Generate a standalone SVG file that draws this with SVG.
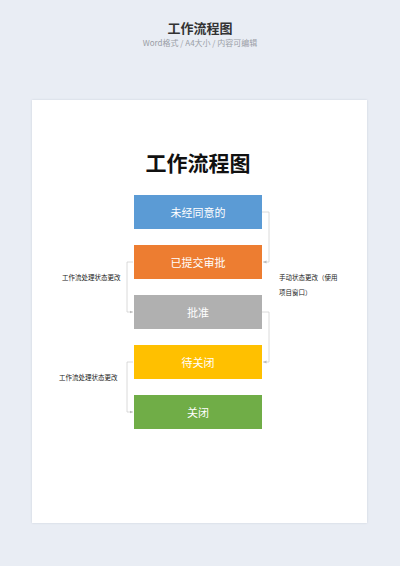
<svg xmlns="http://www.w3.org/2000/svg" width="400" height="566" viewBox="0 0 400 566">
<defs>
<style>
.cjk{font-family:"Noto Sans CJK SC","Noto Sans",sans-serif}
.node text{fill:#fff;font-size:11px;text-anchor:middle;dominant-baseline:central}
.lbl{font-size:6.5px;fill:#222}
.conn path{fill:none;stroke:#d0d0d0;stroke-width:0.8}
</style>
<marker id="arr" markerWidth="4" markerHeight="4" refX="3.5" refY="2" orient="auto" markerUnits="userSpaceOnUse">
<path d="M0,0.5 L3.5,2 L0,3.5 z" fill="#bbb"/>
</marker>
<filter id="sh" x="-5%" y="-5%" width="110%" height="110%">
<feDropShadow dx="0" dy="0" stdDeviation="1.2" flood-color="#b8bfcc" flood-opacity="0.6"/>
</filter>
</defs>
<rect x="0" y="0" width="400" height="566" fill="#e9edf4"/>
<g id="header" class="cjk">
<text x="200" y="33" font-size="13" font-weight="bold" fill="#333" text-anchor="middle">工作流程图</text>
<text x="200" y="46" font-size="8" fill="#9a9ea6" text-anchor="middle">Word格式 / A4大小 / 内容可编辑</text>
</g>
<rect x="32" y="100" width="335" height="423" fill="#fff" filter="url(#sh)"/>
<text class="cjk" x="198" y="171" font-size="21" font-weight="bold" fill="#111" text-anchor="middle">工作流程图</text>
<g class="conn">
<path d="M262,212 H269 V262 H263" marker-end="url(#arr)"/>
<path d="M133,262 H127 V312 H133" marker-end="url(#arr)"/>
<path d="M262,312 H269 V362 H263" marker-end="url(#arr)"/>
<path d="M133,362 H127 V412 H133" marker-end="url(#arr)"/>
</g>
<g id="n1" class="node cjk"><rect x="134" y="195" width="128" height="34" fill="#5b9bd5"/><text x="198" y="212">未经同意的</text></g>
<g id="n2" class="node cjk"><rect x="134" y="245" width="128" height="34" fill="#ed7d31"/><text x="198" y="262">已提交审批</text></g>
<g id="n3" class="node cjk"><rect x="134" y="295" width="128" height="34" fill="#b0b0b0"/><text x="198" y="312">批准</text></g>
<g id="n4" class="node cjk"><rect x="134" y="345" width="128" height="34" fill="#ffc000"/><text x="198" y="362">待关闭</text></g>
<g id="n5" class="node cjk"><rect x="134" y="395" width="128" height="34" fill="#70ad47"/><text x="198" y="412">关闭</text></g>
<g id="labels" class="cjk">
<text class="lbl" x="62" y="280">工作流处理状态更改</text>
<text class="lbl" x="59" y="380">工作流处理状态更改</text>
<text class="lbl" x="279" y="280">手动状态更改（使用</text>
<text class="lbl" x="279" y="295">项目窗口）</text>
</g>
</svg>
